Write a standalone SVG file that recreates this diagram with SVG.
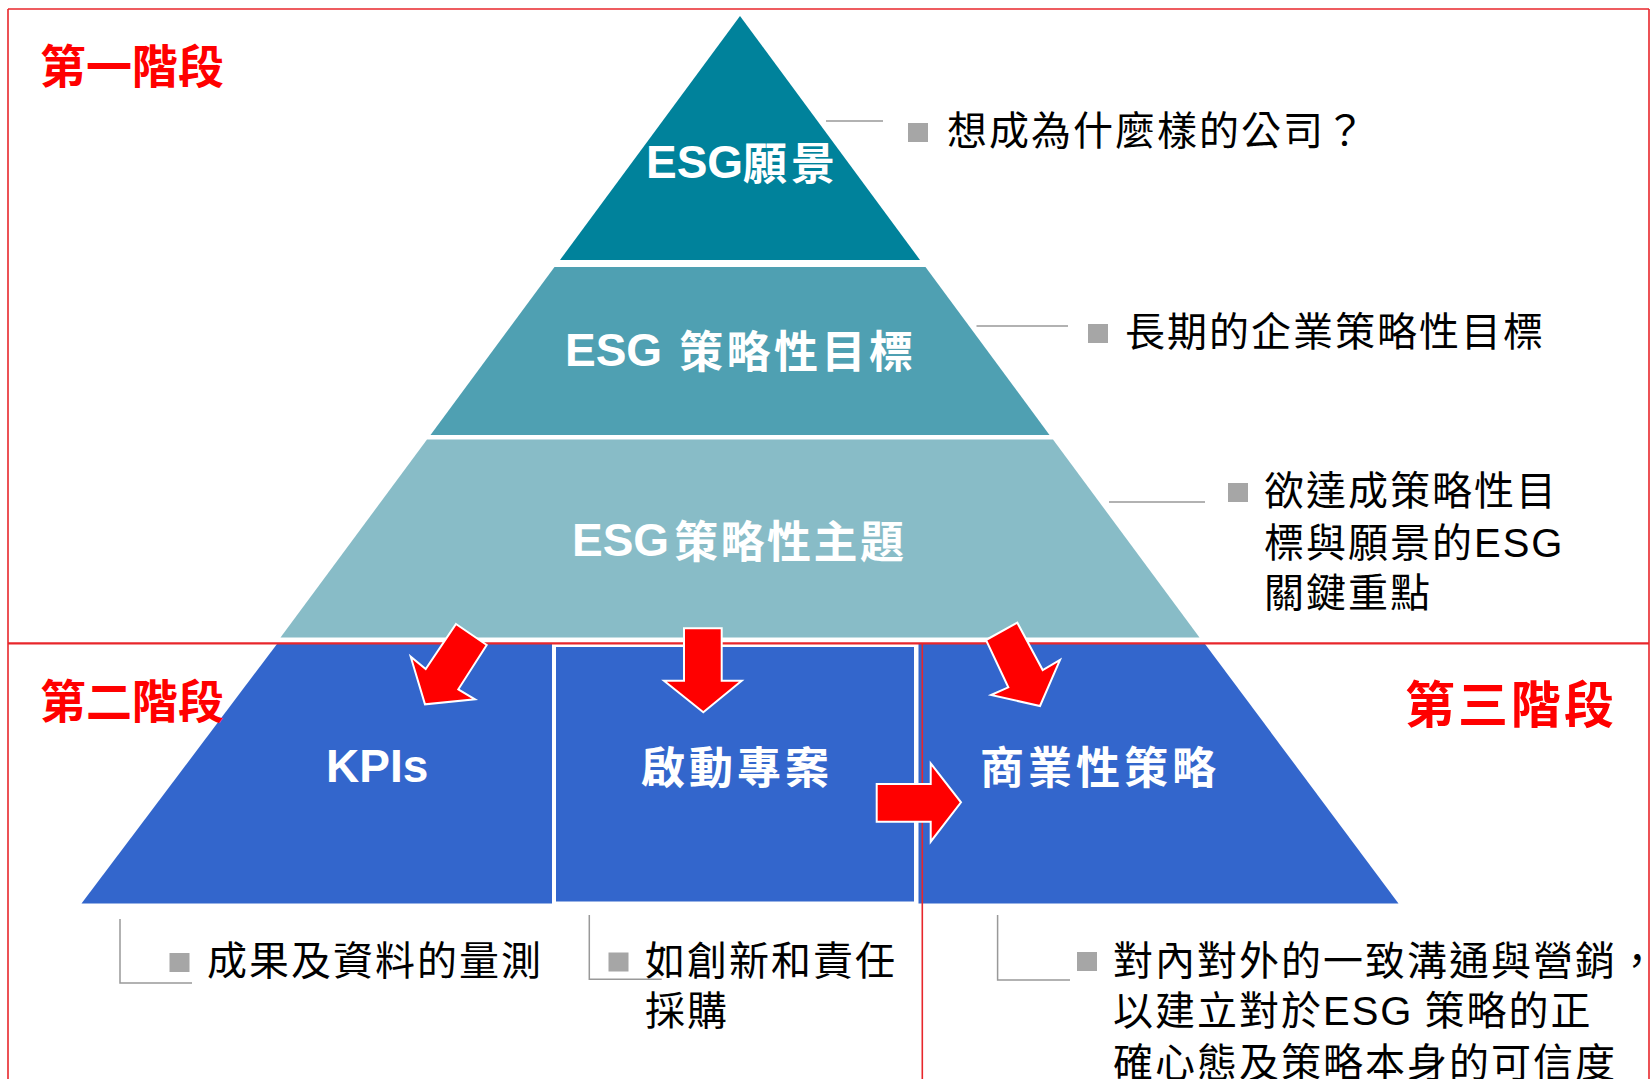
<svg xmlns="http://www.w3.org/2000/svg" width="1650" height="1079" viewBox="0 0 1650 1079">
<style>
.border{stroke:#E8262B;stroke-width:1.6;fill:none}
.wt{fill:#FFFFFF;font-family:"Noto Sans CJK TC","Noto Sans CJK SC",sans-serif;font-weight:700;font-size:44px;letter-spacing:4px}
.we{fill:#FFFFFF;font-family:"Liberation Sans",Arial,sans-serif;font-weight:700;font-size:46px;letter-spacing:0}
.stage{fill:#FF0000;font-family:"Noto Sans CJK TC","Noto Sans CJK SC",sans-serif;font-weight:700;font-size:46px}
.bt{fill:#000000;font-family:"Noto Sans CJK TC","Noto Sans CJK SC",sans-serif;font-weight:400;font-size:40px;letter-spacing:2px}
.be{font-family:"Liberation Sans",Arial,sans-serif}
.bul{fill:#A6A6A6}
.conn{stroke:#999999;stroke-width:1.5;fill:none}
.arrow{fill:#FF0000;stroke:#FFFFFF;stroke-width:2;stroke-linejoin:miter}
</style>
<rect width="1650" height="1079" fill="#FFFFFF"/>

<g id="pyramid-vision">
<polygon points="740,16 920,260 560,260" fill="#00829B"/>
<text class="we" x="646" y="178">ESG</text>
<text class="wt" x="743" y="180">願景</text>
</g>
<g id="pyramid-goals">
<polygon points="554.5,267 925.5,267 1049.5,435 430.5,435" fill="#4FA0B2"/>
<text class="we" x="565" y="366">ESG</text>
<text class="wt" x="679" y="368" style="letter-spacing:3.5px">策略性目標</text>
</g>
<g id="pyramid-themes">
<polygon points="427,439.5 1053,439.5 1199.5,637.5 280.5,637.5" fill="#88BCC7"/>
<text class="we" x="572" y="556">ESG</text>
<text class="wt" x="674" y="558" style="letter-spacing:2.5px">策略性主題</text>
</g>

<g id="block-kpis">
<polygon points="277,644 552,644 552,903.5 81.5,903.5" fill="#3366CC"/>
<text class="we" x="326" y="782">KPIs</text>
</g>
<g id="block-projects">
<rect x="554.5" y="645.5" width="361" height="257.5" fill="#3366CC" stroke="#FFFFFF" stroke-width="3"/>
<text class="wt" x="641" y="784">啟動專案</text>
</g>
<g id="block-business">
<polygon points="918.5,644 1205,644 1398.5,903.5 918.5,903.5" fill="#3366CC"/>
<text class="wt" x="980" y="784">商業性策略</text>
</g>

<g id="frame">
<line class="border" x1="8" y1="9" x2="1649" y2="9"/>
<line class="border" x1="8" y1="9" x2="8" y2="1079"/>
<line class="border" x1="1649" y1="9" x2="1649" y2="1079"/>
<line class="border" x1="8" y1="643.3" x2="1649" y2="643.3" style="stroke-width:2.2"/>
<line class="border" x1="922.3" y1="643.3" x2="922.3" y2="1079"/>
</g>

<g id="stage-1"><text class="stage" x="40" y="83">第一階段</text></g>
<g id="stage-2"><text class="stage" x="40" y="718">第二階段</text></g>
<g id="stage-3"><text class="stage" x="1405" y="723" style="font-size:50px;letter-spacing:3px">第三階段</text></g>

<g id="note-vision">
<rect class="bul" x="908" y="123" width="20" height="19"/>
<text class="bt" x="947" y="145">想成為什麼樣的公司？</text>
</g>
<g id="note-goals">
<rect class="bul" x="1088" y="324" width="20" height="19"/>
<text class="bt" x="1125" y="346">長期的企業策略性目標</text>
</g>
<g id="note-themes">
<rect class="bul" x="1228" y="483" width="20" height="19"/>
<text class="bt" x="1264" y="505">欲達成策略性目</text>
<text class="bt" x="1264" y="557">標與願景的<tspan class="be">ESG</tspan></text>
<text class="bt" x="1264" y="607">關鍵重點</text>
</g>
<g id="note-kpis">
<rect class="bul" x="169.5" y="953" width="20" height="19"/>
<text class="bt" x="207" y="975">成果及資料的量測</text>
</g>
<g id="note-projects">
<rect class="bul" x="608.5" y="952.5" width="20" height="19"/>
<text class="bt" x="645" y="975">如創新和責任</text>
<text class="bt" x="645" y="1025">採購</text>
</g>
<g id="note-business">
<rect class="bul" x="1077" y="952" width="20" height="19"/>
<text class="bt" x="1113" y="975">對內對外的一致溝通與營銷，</text>
<text class="bt" x="1113" y="1025">以建立對於<tspan class="be">ESG</tspan> 策略的正</text>
<text class="bt" x="1113" y="1077">確心態及策略本身的可信度</text>
</g>

<g id="connectors">
<line class="conn" x1="826" y1="121" x2="883" y2="121"/>
<line class="conn" x1="976.5" y1="326" x2="1068" y2="326"/>
<line class="conn" x1="1109" y1="502" x2="1205" y2="502"/>
<polyline class="conn" points="120,919 120,983 192,983"/>
<polyline class="conn" points="589.3,915 589.3,979.3 661.7,979.3"/>
<polyline class="conn" points="997.6,915 997.6,980 1070,980"/>
<polygon class="arrow" points="456,624 486.7,645 458.3,689.3 475,699.3 425,704.3 410.7,656.7 425.7,669"/>
<polygon class="arrow" points="684,628.3 721.7,628.3 721.7,680.7 741.7,680.7 703.3,712.3 664,680.7 684,680.7"/>
<polygon class="arrow" points="986,640 1017.3,622.7 1042.7,670 1060,660 1040,706 991,695 1008.3,687.3"/>
<polygon class="arrow" points="876.7,784 930.7,784 930.7,763.3 961,802.3 930.7,841.7 930.7,821.7 876.7,821.7"/>
</g>
</svg>
